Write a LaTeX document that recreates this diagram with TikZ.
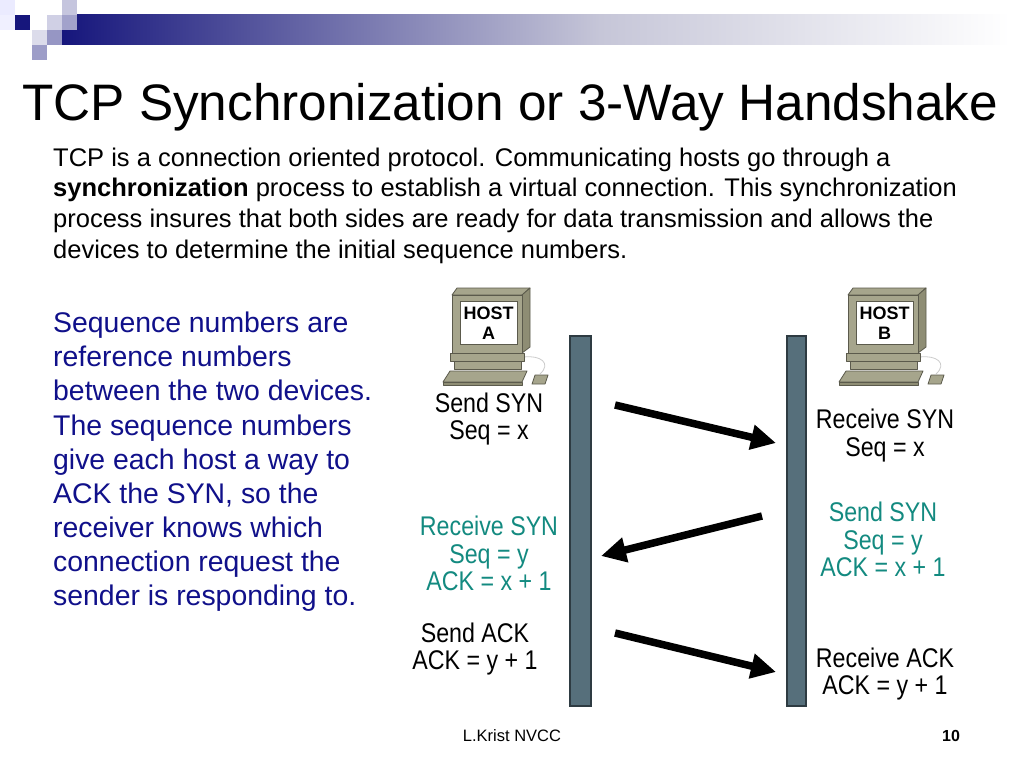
\documentclass[tikz,border=0pt]{standalone}
\usepackage{fontspec}
\setmainfont{Liberation Sans}
\newfontfamily\narrowfont[FakeStretch=0.86]{Liberation Sans}
\usetikzlibrary{arrows.meta}
\definecolor{blueText}{HTML}{10108A}
\definecolor{tealText}{HTML}{138A80}
\definecolor{barFill}{HTML}{566F7B}
\definecolor{barLine}{HTML}{2E3B42}
\definecolor{hostBody}{HTML}{A6A58C}
\definecolor{hostDark}{HTML}{8E8D74}
\definecolor{hostLine}{HTML}{5B5A4C}
\definecolor{decoNavy}{HTML}{16167C}
\definecolor{gradMid}{HTML}{C6C6D8}
\tikzset{
  bar/.style={fill=barFill, draw=barLine, line width=1.2pt},
  msg/.style={line width=7.5pt, -{Triangle[length=25pt,width=24pt]}},
  lbl/.style={font=\narrowfont\fontsize{27}{27.5}\selectfont, align=center, inner sep=0pt},
  hostpart/.style={fill=hostBody, draw=hostLine, line width=0.8pt, line join=round},
  hostside/.style={fill=hostDark, draw=hostLine, line width=0.8pt, line join=round},
  host/.pic={
    \path[hostpart] (12,10) -- (17,3) -- (90,3) -- (82,10) -- cycle;
    \path[hostside] (82,10) -- (90,3) -- (90,62) -- (82,68) -- cycle;
    \path[hostpart] (12,10) rectangle (82,68);
    \path[fill=white, draw=hostLine, line width=0.8pt] (20,16) rectangle (77,59);
    \draw[gray!40, line width=0.8pt] (84,72) .. controls (100,70) and (112,78) .. (100,89);
    \path[hostpart] (10,68) -- (84,68) -- (84,76) -- (10,76) -- cycle;
    \path[hostpart] (14,76) -- (81,76) -- (81,84) -- (14,84) -- cycle;
    \path[hostpart] (10,86) -- (87,86) -- (82,97) -- (3,97) -- cycle;
    \path[hostside] (3,97) -- (82,97) -- (82,100) -- (3,100) -- cycle;
    \path[hostpart] (95,90) -- (108,90) -- (105,99) -- (92,99) -- cycle;
    \node[font=\bfseries\fontsize{18}{20}\selectfont, align=center, inner sep=0pt] (-name) at (48.5,38) {HOST\\#1};
  }
}
\begin{document}
\begin{tikzpicture}[x=1pt, y=-1pt]
\useasboundingbox (0,0) rectangle (1024,768);
\fill[white] (0,0) rectangle (1024,768);
% decoration
\shade[left color=decoNavy, right color=gradMid] (62,15) rectangle (600,45);
\shade[left color=gradMid, right color=white] (599.5,15) rectangle (1010,45);
\fill[blue!8!white] (0,0) rectangle (15,15);
\fill[blue!6!white] (0,15) rectangle (15,30);
\fill[decoNavy!25!white] (62,0) rectangle (77,15);
\fill[decoNavy!20!white] (47,15) rectangle (62,30);
\fill[decoNavy!40!white] (62,15) rectangle (77,30);
\fill[decoNavy] (15,15) rectangle (30,30);
\fill[decoNavy!15!white] (32,30) rectangle (47,45);
\fill[decoNavy!45!white] (47,30) rectangle (62,45);
\fill[decoNavy!42!white] (32,45) rectangle (47,60);
% title and texts
\node[anchor=base west, inner sep=0pt, font=\fontsize{51.3}{60}\selectfont] (title) at (22,120) {TCP Synchronization or 3-Way Handshake};
\node[anchor=north west, inner sep=0pt, align=left, font=\fontsize{25.5}{30.8}\selectfont] (intro) at (53,147.5) {TCP is a connection oriented protocol. Communicating hosts go through a\\
\textbf{synchronization} process to establish a virtual connection. This synchronization\\
process insures that both sides are ready for data transmission and allows the\\
devices to determine the initial sequence numbers.};
\node[anchor=north west, inner sep=0pt, align=left, text=blueText, font=\fontsize{28.4}{34.1}\selectfont] (side) at (53,312) {Sequence numbers are\\
reference numbers\\
between the two devices.\\
The sequence numbers\\
give each host a way to\\
ACK the SYN, so the\\
receiver knows which\\
connection request the\\
sender is responding to.};
% hosts
\pic (hA) at (440,285) {host=A};
\pic (hB) at (836,285) {host=B};
% bars
\node[bar, minimum width=21pt, minimum height=370pt, inner sep=0pt] (barA) at (580.5,521) {};
\node[bar, minimum width=19pt, minimum height=370pt, inner sep=0pt] (barB) at (796.5,521) {};
% labels
\node[lbl] (sendsyn) at (489,419) {Send SYN\\Seq = x};
\node[lbl] (recvsyn) at (885,435.5) {Receive SYN\\Seq = x};
\node[lbl, text=tealText] (recvsynack) at (489,553.5) {Receive SYN\\Seq = y\\ACK = x + 1};
\node[lbl, text=tealText] (sendsynack) at (883,539.5) {Send SYN\\Seq = y\\ACK = x + 1};
\node[lbl] (sendack) at (475,649) {Send ACK\\ACK = y + 1};
\node[lbl] (recvack) at (885,674) {Receive ACK\\ACK = y + 1};
% arrows
\coordinate (m1s) at (615,405);
\coordinate (m1e) at (776,443);
\coordinate (m2s) at (762,516);
\coordinate (m2e) at (601,556);
\coordinate (m3s) at (615,633);
\coordinate (m3e) at (776,672);
\draw[msg] (m1s) -- (m1e);
\draw[msg] (m2s) -- (m2e);
\draw[msg] (m3s) -- (m3e);
% footer
\node[font=\fontsize{16.5}{18}\selectfont, inner sep=0pt] (footer) at (512,736) {L.Krist NVCC};
\node[font=\bfseries\fontsize{16}{18}\selectfont, inner sep=0pt] (pagenum) at (951,736) {10};
\end{tikzpicture}
\end{document}
